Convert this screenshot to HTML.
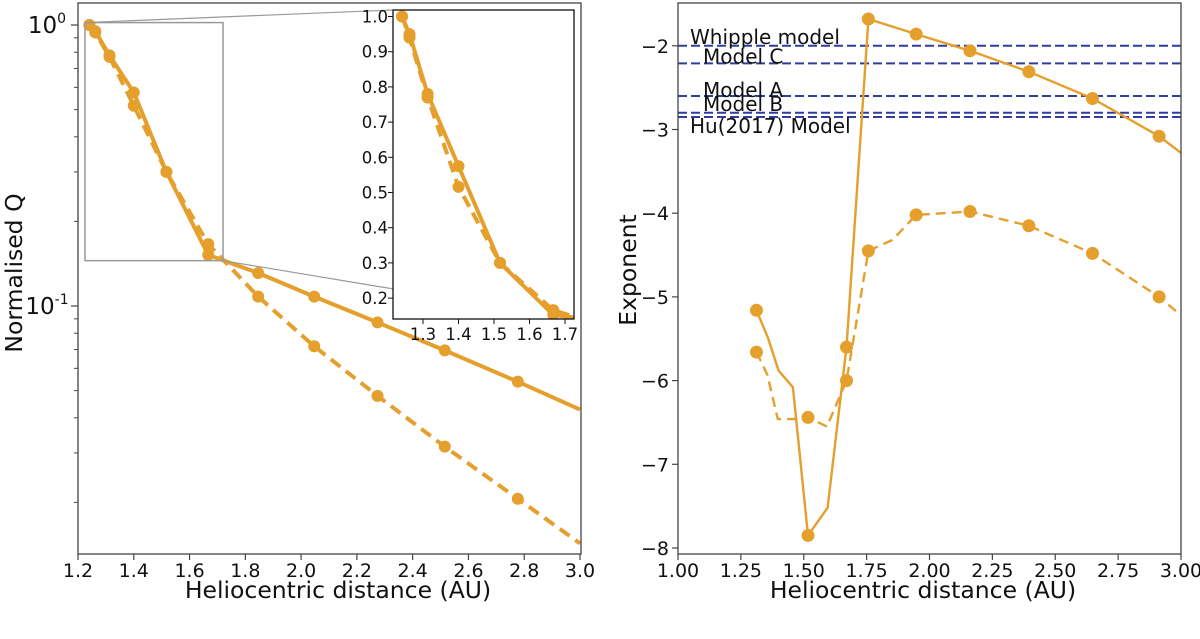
<!DOCTYPE html>
<html><head><meta charset="utf-8"><style>
html,body{margin:0;padding:0;background:#fff;}
svg{display:block;font-family:"DejaVu Sans","Liberation Sans",sans-serif;}
</style></head><body>
<svg id="fig" width="1200" height="639" viewBox="0 0 1200 639"></svg>
<script>
// ---- Left panel data (normalised Q, log scale) ----
const leftSolidX = [1.241, 1.262, 1.313, 1.40, 1.517, 1.667, 1.846, 2.047, 2.274, 2.515, 2.777, 3.0];
const leftSolidY = [1.0, 0.95, 0.78, 0.575, 0.30, 0.152, 0.131, 0.108, 0.0874, 0.0695, 0.0538, 0.0428];
const leftSolidMark = [1,1,1,1,1,1,1,1,1,1,1,0];
const leftDashX = [1.241, 1.262, 1.313, 1.40, 1.517, 1.667, 1.846, 2.047, 2.274, 2.515, 2.777, 3.0];
const leftDashY = [1.0, 0.94, 0.77, 0.516, 0.30, 0.166, 0.108, 0.0719, 0.0479, 0.0316, 0.0206, 0.0143];
const leftDashMark = [1,1,1,1,1,1,1,1,1,1,1,0];
const leftXTicks = [1.2,1.4,1.6,1.8,2.0,2.2,2.4,2.6,2.8,3.0];
const insetXTicks = [1.3,1.4,1.5,1.6,1.7];
const insetYTicks = [0.2,0.3,0.4,0.5,0.6,0.7,0.8,0.9,1.0];
// ---- Right panel data (exponent) ----
const rightSolidX = [1.312, 1.358, 1.40, 1.457, 1.517, 1.595, 1.67, 1.757, 1.947, 2.161, 2.395, 2.648, 2.913, 3.0];
const rightSolidY = [-5.16, -5.49, -5.88, -6.08, -7.85, -7.52, -5.6, -1.68, -1.86, -2.06, -2.31, -2.63, -3.08, -3.28];
const rightSolidMark = [1,0,0,0,1,0,1,1,1,1,1,1,1,0];
const rightDashX = [1.312, 1.355, 1.397, 1.47, 1.517, 1.592, 1.67, 1.757, 1.852, 1.947, 2.161, 2.395, 2.648, 2.913, 3.0];
const rightDashY = [-5.66, -5.93, -6.46, -6.46, -6.44, -6.55, -6.0, -4.45, -4.32, -4.02, -3.98, -4.15, -4.48, -5.0, -5.22];
const rightDashMark = [1,0,0,0,1,0,1,1,0,1,1,1,1,1,0];
const modelNames = ["Whipple model","Model C","Model A","Model B","Hu(2017) Model"];
const modelValues = [-2.0, -2.21, -2.6, -2.8, -2.85];
const rightXTicks = ["1.00","1.25","1.50","1.75","2.00","2.25","2.50","2.75","3.00"];
const rightYTicks = [-2,-3,-4,-5,-6,-7,-8];

const NS="http://www.w3.org/2000/svg";
const svg=document.getElementById('fig');
const OR="#e59f2c", BL="#2f3e9c";
const TF=19, AF=23.5;
function el(tag,attrs,parent){const e=document.createElementNS(NS,tag);for(const k in attrs)e.setAttribute(k,attrs[k]);(parent||svg).appendChild(e);return e;}
function txt(s,attrs,parent){const e=el('text',attrs,parent);e.textContent=s;return e;}

const defs=el('defs',{});
const c1=el('clipPath',{id:'clipL'},defs);el('rect',{x:78,y:3,width:503,height:551},c1);
const c2=el('clipPath',{id:'clipI'},defs);el('rect',{x:393,y:10,width:181,height:309},c2);
const c3=el('clipPath',{id:'clipR'},defs);el('rect',{x:678,y:3,width:503,height:551},c3);

// ===== Left panel =====
const lx=v=>78+(v-1.2)/1.8*502;
const ly=v=>25-Math.log10(v)*281;
const gL=el('g',{});


function series(g,xs,ys,marks,fx,fy,dash,w,r,clip,name){
  const gg=el('g',{'clip-path':'url(#'+clip+')'},g);
  
  const pts=xs.map((x,i)=>fx(x).toFixed(1)+','+fy(ys[i]).toFixed(1)).join(' ');
  const pl=el('polyline',{points:pts,fill:'none',stroke:OR,'stroke-width':w,'stroke-dasharray':dash||'none','stroke-linejoin':'round'},gg);
  
  xs.forEach((x,i)=>{if(!marks[i])return;
    const c=el('circle',{cx:fx(x),cy:fy(ys[i]),r:r,fill:OR},gg);
    });
}
series(gL,leftDashX,leftDashY,leftDashMark,lx,ly,'12,7',4,6,'clipL','left-dashed-series');
series(gL,leftSolidX,leftSolidY,leftSolidMark,lx,ly,null,4,6,'clipL','left-solid-series');

const zr=el('rect',{x:lx(1.225),y:ly(1.02),width:lx(1.72)-lx(1.225),height:ly(0.145)-ly(1.02),fill:'none',stroke:'#999','stroke-width':1.5},gL);

el('line',{x1:lx(1.225),y1:ly(1.02),x2:393,y2:10,stroke:'#999','stroke-width':1.2},gL);
el('line',{x1:lx(1.72),y1:ly(0.145),x2:574,y2:319,stroke:'#999','stroke-width':1.2},gL);

const fL=el('rect',{x:78,y:3,width:503,height:551,fill:'none',stroke:'#444','stroke-width':1.3},gL);

leftXTicks.forEach(t=>{el('line',{x1:lx(t),x2:lx(t),y1:554,y2:560,stroke:'#444','stroke-width':1.2},gL);
  const tt=txt(t.toFixed(1),{x:lx(t),y:577,'font-size':TF,'text-anchor':'middle',fill:'#111'},gL);
  });
[[1,'0'],[0.1,'-1']].forEach(([v,e])=>{const y=ly(v);
  el('line',{x1:71,x2:78,y1:y,y2:y,stroke:'#444','stroke-width':1.2},gL);
  const t=txt('10',{x:47,y:y+8,'font-size':23,'text-anchor':'middle',fill:'#111'},gL);
  const s=el('tspan',{dy:-10,'font-size':14},t);s.textContent=e;
  });
for(let d of [0.01,0.1])for(let m=2;m<=9;m++){const v=d*m;const y=ly(v);if(y<3||y>554)continue;
  el('line',{x1:74,x2:78,y1:y,y2:y,stroke:'#444','stroke-width':1},gL);}
const xlL=txt('Heliocentric distance (AU)',{x:338,y:598,'font-size':AF,'text-anchor':'middle',fill:'#111'},gL);

const ylL=txt('Normalised Q',{x:0,y:0,'font-size':AF,'text-anchor':'middle',fill:'#111',transform:'translate(22,273) rotate(-90)'},gL);


// inset
const ix=v=>423+(v-1.3)/0.1*35.5;
const iy=v=>16.5+(1.0-v)/0.1*35.2;
const gI=el('g',{},gL);

el('rect',{x:393,y:10,width:181,height:309,fill:'#fff'},gI);
series(gI,leftDashX,leftDashY,leftDashMark,ix,iy,'12,7',4,6,'clipI','inset-dashed-series');
series(gI,leftSolidX,leftSolidY,leftSolidMark,ix,iy,null,4,6,'clipI','inset-solid-series');
el('rect',{x:393,y:10,width:181,height:309,fill:'none',stroke:'#111','stroke-width':1.3},gI);
insetXTicks.forEach(t=>{el('line',{x1:ix(t),x2:ix(t),y1:319,y2:324,stroke:'#111'},gI);
  const tt=txt(t.toFixed(1),{x:ix(t),y:340,'font-size':16.5,'text-anchor':'middle',fill:'#111'},gI);
  });
insetYTicks.forEach(t=>{el('line',{x1:388,x2:393,y1:iy(t),y2:iy(t),stroke:'#111'},gI);
  const tt=txt(t.toFixed(1),{x:388,y:iy(t)+6,'font-size':16.5,'text-anchor':'end',fill:'#111'},gI);
  });

// ===== Right panel =====
const rx=v=>678+(v-1.0)/2.0*503;
const ry=v=>45.8+(-2-v)*83.7;
const gR=el('g',{});

const gM=el('g',{'clip-path':'url(#clipR)'},gR);

modelValues.forEach((v,i)=>{const l=el('line',{x1:678,x2:1181,y1:ry(v),y2:ry(v),stroke:BL,'stroke-width':2,'stroke-dasharray':'9,4'},gM);
  });
const labX=[690,703,703,703,690], labDy=[-2,0,1,-2,16];
modelNames.forEach((n,i)=>{const t=txt(n,{x:labX[i],y:ry(modelValues[i])+labDy[i],'font-size':20,fill:'#111'},gR);
  });
series(gR,rightDashX,rightDashY,rightDashMark,rx,ry,'10,6',2.4,6.5,'clipR','right-dashed-series');
series(gR,rightSolidX,rightSolidY,rightSolidMark,rx,ry,null,2.4,6.5,'clipR','right-solid-series');
const fR=el('rect',{x:678,y:3,width:503,height:551,fill:'none',stroke:'#444','stroke-width':1.3},gR);

rightXTicks.forEach(s=>{const x=rx(parseFloat(s));el('line',{x1:x,x2:x,y1:554,y2:560,stroke:'#444','stroke-width':1.2},gR);
  const t=txt(s,{x:x,y:577,'font-size':TF,'text-anchor':'middle',fill:'#111'},gR);
  });
rightYTicks.forEach(v=>{const y=ry(v);el('line',{x1:672,x2:678,y1:y,y2:y,stroke:'#444','stroke-width':1.2},gR);
  const t=txt('\u2212'+Math.abs(v),{x:669,y:y+7,'font-size':TF,'text-anchor':'end',fill:'#111'},gR);
  });
const xlR=txt('Heliocentric distance (AU)',{x:923,y:598,'font-size':AF,'text-anchor':'middle',fill:'#111'},gR);

const ylR=txt('Exponent',{x:0,y:0,'font-size':AF,'text-anchor':'middle',fill:'#111',transform:'translate(636,270) rotate(-90)'},gR);

</script>
</body></html>
